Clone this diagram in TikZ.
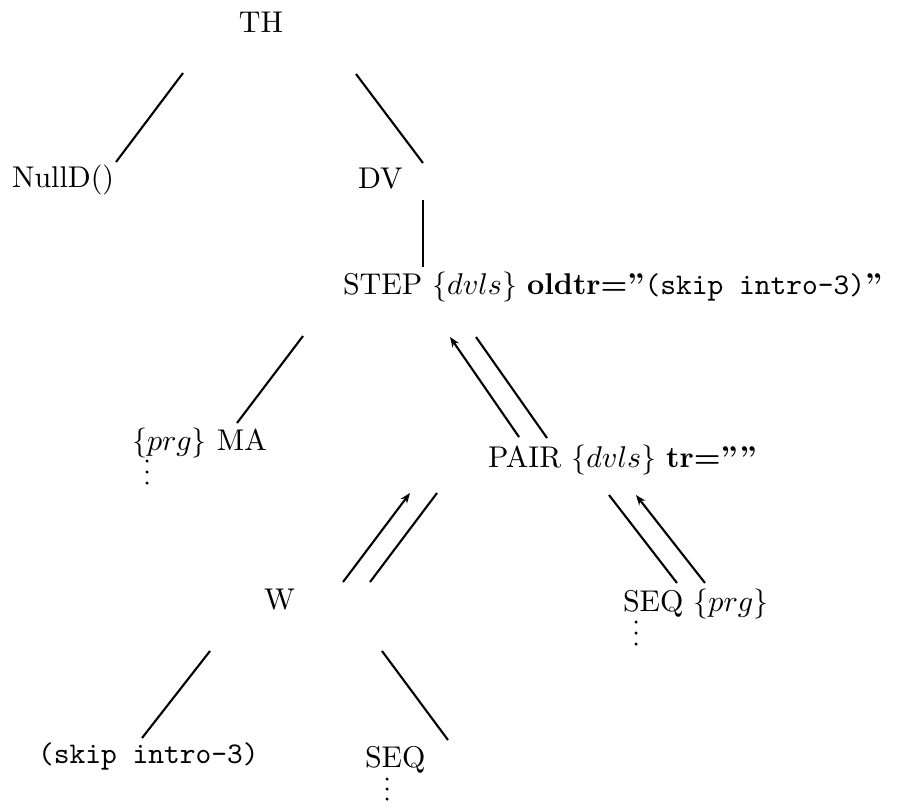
\documentclass[tikz,border=0pt]{standalone}
\usetikzlibrary{arrows.meta}
\begin{document}
\begin{tikzpicture}[x=0.3333pt,y=-0.3333pt,
  lbl/.style={inner sep=0pt, outer sep=0pt, anchor=base west, font=\fontsize{10}{12}\selectfont},
  dotn/.style={circle, fill=black, inner sep=0pt, minimum size=1.15pt},
  branch/.style={line width=0.7pt},
  upflow/.style={line width=0.7pt, -{Stealth[length=3.4pt,width=2.6pt]}}]
\useasboundingbox (0,0) rectangle (903,802);
% nodes
\node[lbl, anchor=base] (TH) at (261,32) {TH};
\node[lbl] (NullD) at (12,187) {NullD()};
\node[lbl] (DV) at (358,188) {DV};
\node[lbl] (STEP) at (343,294) {STEP $\{dvls\}$ \textbf{oldtr=''\textmd{\texttt{(skip intro-3)}}''}};
\node[lbl] (MA) at (132,450) {$\{prg\}$ MA};
\node[lbl] (PAIR) at (488,467) {PAIR $\{dvls\}$ \textbf{tr=''''}};
\node[lbl] (W) at (264,609) {W};
\node[lbl] (SEQa) at (623,611) {SEQ $\{prg\}$};
\node[lbl] (skip) at (38,763) {\texttt{(skip intro-3)}};
\node[lbl] (SEQb) at (365,767) {SEQ};
% continuation dots
\node[dotn] (MAd1) at (147,461) {};
\node[dotn] (MAd2) at (147,472) {};
\node[dotn] (MAd3) at (147,483) {};
\node[dotn] (SEQad1) at (636,622) {};
\node[dotn] (SEQad2) at (636,633) {};
\node[dotn] (SEQad3) at (636,644) {};
\node[dotn] (SEQbd1) at (387,779) {};
\node[dotn] (SEQbd2) at (387,789) {};
\node[dotn] (SEQbd3) at (387,799) {};
% branch end points
\coordinate (TH-l) at (183,73);   \coordinate (NullD-t) at (116,162);
\coordinate (TH-r) at (356,74);   \coordinate (DV-t) at (423,163);
\coordinate (DV-b) at (423,200);  \coordinate (STEP-t) at (423,267);
\coordinate (STEP-l) at (303,336); \coordinate (MA-t) at (237,423);
\coordinate (STEP-a) at (450,337); \coordinate (PAIR-a) at (519,437);
\coordinate (STEP-r) at (476,337); \coordinate (PAIR-t) at (547,438);
\coordinate (PAIR-a2) at (410,493); \coordinate (W-a) at (343,582);
\coordinate (PAIR-l) at (437,493); \coordinate (W-t) at (370,582);
\coordinate (PAIR-r) at (609,495); \coordinate (SEQa-t) at (677,583);
\coordinate (PAIR-a3) at (636,495); \coordinate (SEQa-a) at (705,583);
\coordinate (W-l) at (210,651);   \coordinate (skip-t) at (142,738);
\coordinate (W-r) at (382,651);   \coordinate (SEQb-t) at (448,740);
% connectors
\draw[branch] (TH-l) -- (NullD-t);
\draw[branch] (TH-r) -- (DV-t);
\draw[branch] (DV-b) -- (STEP-t);
\draw[branch] (STEP-l) -- (MA-t);
\draw[upflow] (PAIR-a) -- (STEP-a);
\draw[branch] (STEP-r) -- (PAIR-t);
\draw[upflow] (W-a) -- (PAIR-a2);
\draw[branch] (W-t) -- (PAIR-l);
\draw[branch] (PAIR-r) -- (SEQa-t);
\draw[upflow] (SEQa-a) -- (PAIR-a3);
\draw[branch] (W-l) -- (skip-t);
\draw[branch] (W-r) -- (SEQb-t);
\end{tikzpicture}
\end{document}
